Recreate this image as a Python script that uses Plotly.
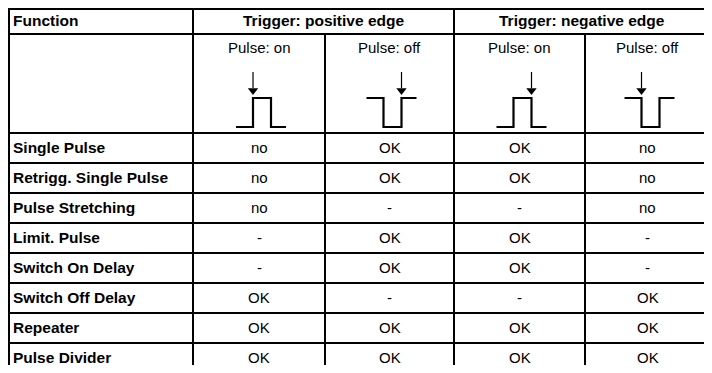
import plotly.graph_objects as go

# ---- data ----
functions = ["Single Pulse", "Retrigg. Single Pulse", "Pulse Stretching", "Limit. Pulse",
             "Switch On Delay", "Switch Off Delay", "Repeater", "Pulse Divider"]
pos_on = ["no", "no", "no", "-", "-", "OK", "OK", "OK"]
pos_off = ["OK", "OK", "-", "OK", "OK", "-", "OK", "OK"]
neg_on = ["OK", "OK", "-", "OK", "OK", "-", "OK", "OK"]
neg_off = ["no", "no", "no", "-", "-", "OK", "OK", "OK"]
columns = [pos_on, pos_off, neg_on, neg_off]
col_pulse = ["on", "off", "on", "off"]
col_trigger = ["positive", "positive", "negative", "negative"]
header_first = "Function"
trigger_headers = ["Trigger: positive edge", "Trigger: negative edge"]

# ---- layout geometry (page pixel coordinates) ----
PAGE_W, PAGE_H = 712, 373
OFF = 8  # default body margin of the html page
x_lines = [9, 193, 325, 454, 585, 710]
y_top, y_head, y_sub = 8, 34, 133
row_h = 30
n_rows = len(functions)
row_lines = [y_sub + i * row_h for i in range(n_rows + 1)]

FONT = "Liberation Sans, Arial, Helvetica, sans-serif"
BOLD = 15.5
REG = 15
LW = 2

fig = go.Figure()
shapes = []

def hline(x0, x1, y):
    shapes.append(dict(type="line", x0=x0, x1=x1, y0=y, y1=y, xref="x", yref="y",
                       line=dict(color="black", width=LW)))

def vline(x, y0, y1):
    shapes.append(dict(type="line", x0=x, x1=x, y0=y0, y1=y1, xref="x", yref="y",
                       line=dict(color="black", width=LW)))

hline(x_lines[0] - 1, x_lines[-1] + 1, y_top + 1)
hline(x_lines[0], x_lines[-1], y_head)
for y in row_lines:
    hline(x_lines[0], x_lines[-1], y)
y_bottom = row_lines[-1] + 5
vline(x_lines[0], y_top, y_bottom)
vline(x_lines[1], y_top, y_bottom)
vline(x_lines[3], y_top, y_bottom)
vline(x_lines[5], y_top, y_bottom)
vline(x_lines[2], y_head, y_bottom)
vline(x_lines[4], y_head, y_bottom)

annotations = []

def text(x, y, s, bold=False, anchor="center", size=None):
    annotations.append(dict(x=x, y=y, xref="x", yref="y", text=("<b>%s</b>" % s) if bold else s,
                            showarrow=False, xanchor=anchor, yanchor="middle",
                            font=dict(family=FONT, size=size or (BOLD if bold else REG), color="black")))

head_y = 20.5
text(x_lines[0] + 2, head_y, header_first, bold=True, anchor="left")
text((x_lines[1] + x_lines[3]) / 2, head_y, trigger_headers[0], bold=True)
text((x_lines[3] + x_lines[5]) / 2, head_y, trigger_headers[1], bold=True)

centers = [(x_lines[i] + x_lines[i + 1]) / 2 for i in range(1, 5)]

y_hi, y_lo = 98, 127
for cx, mode, trig in zip(centers, col_pulse, col_trigger):
    text(cx, 47.5, "Pulse: " + mode)
    e1, e2 = cx - 6, cx + 12
    xs = [cx - 23, e1, e1, e2, e2, cx + 27]
    if mode == "on":
        ys = [y_lo, y_lo, y_hi, y_hi, y_lo, y_lo]
        ax = e1 if trig == "positive" else e2
    else:
        ys = [y_hi, y_hi, y_lo, y_lo, y_hi, y_hi]
        ax = e2 if trig == "positive" else e1
    fig.add_trace(go.Scatter(x=xs, y=ys, mode="lines", line=dict(color="black", width=2.2),
                             hoverinfo="skip", showlegend=False))
    fig.add_trace(go.Scatter(x=[ax, ax], y=[72, 88], mode="lines", line=dict(color="black", width=1.2),
                             hoverinfo="skip", showlegend=False))
    fig.add_trace(go.Scatter(x=[ax], y=[90.5], mode="markers",
                             marker=dict(symbol="triangle-down", size=9, color="black"),
                             hoverinfo="skip", showlegend=False))

for i, name in enumerate(functions):
    yc = row_lines[i] + row_h / 2 - 0.5
    text(x_lines[0] + 2, yc, name, bold=True, anchor="left")
    for cx, col in zip(centers, columns):
        text(cx, yc, col[i])

fig_w, fig_h = PAGE_W - OFF, PAGE_H - 2 * OFF
fig.update_layout(
    width=fig_w, height=fig_h, margin=dict(l=0, r=0, t=0, b=0),
    paper_bgcolor="white", plot_bgcolor="white",
    xaxis=dict(range=[OFF, OFF + fig_w], visible=False, fixedrange=True),
    yaxis=dict(range=[OFF + fig_h, OFF], visible=False, fixedrange=True),
    shapes=shapes, annotations=annotations, showlegend=False,
)
fig.write_html("out.html")
